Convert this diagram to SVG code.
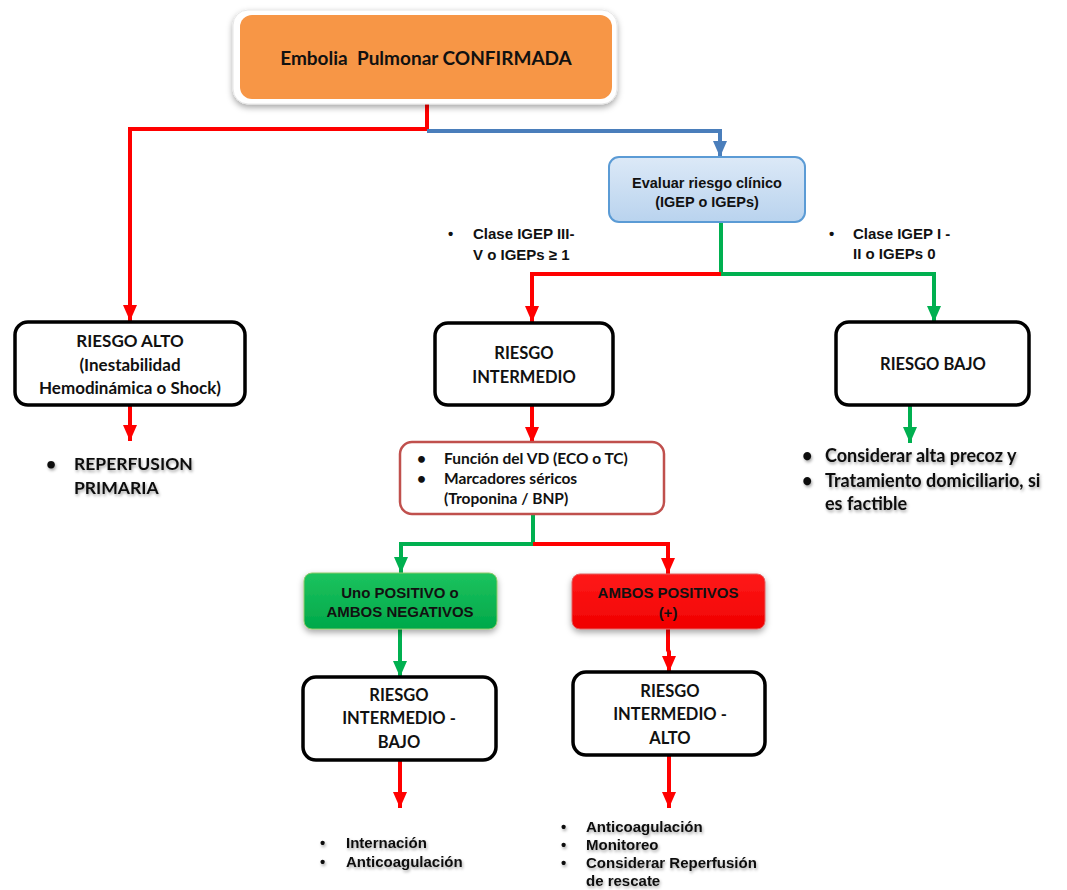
<svg xmlns="http://www.w3.org/2000/svg" width="1067" height="890" viewBox="0 0 1067 890">
<defs>
<marker id="aR" viewBox="0 0 16 14" refX="16" refY="7" markerWidth="16" markerHeight="14" markerUnits="userSpaceOnUse" orient="auto"><path d="M0,0 L16,7 L0,14 z" fill="#ff0000"/></marker>
<marker id="aG" viewBox="0 0 16 14" refX="16" refY="7" markerWidth="16" markerHeight="14" markerUnits="userSpaceOnUse" orient="auto"><path d="M0,0 L16,7 L0,14 z" fill="#00b050"/></marker>
<marker id="aB" viewBox="0 0 16 14" refX="16" refY="7" markerWidth="16" markerHeight="14" markerUnits="userSpaceOnUse" orient="auto"><path d="M0,0 L16,7 L0,14 z" fill="#4a7ebb"/></marker>
<filter id="sh" x="-10%" y="-10%" width="120%" height="130%"><feDropShadow dx="0" dy="3" stdDeviation="3" flood-color="#000" flood-opacity="0.35"/></filter>
<filter id="tsh" x="-5%" y="-20%" width="110%" height="150%"><feDropShadow dx="1" dy="2" stdDeviation="1.5" flood-color="#000" flood-opacity="0.35"/></filter>
<linearGradient id="gBlue" x1="0" y1="0" x2="0" y2="1"><stop offset="0" stop-color="#dce9f7"/><stop offset="1" stop-color="#b9d3ee"/></linearGradient>
<linearGradient id="gGreen" x1="0" y1="0" x2="0" y2="1"><stop offset="0" stop-color="#1dc35e"/><stop offset="1" stop-color="#00a84a"/></linearGradient>
<linearGradient id="gRed" x1="0" y1="0" x2="0" y2="1"><stop offset="0" stop-color="#ff1a1a"/><stop offset="1" stop-color="#f00000"/></linearGradient>
</defs>
<style>
.box{fill:#fff;stroke:#000;stroke-width:3.5}
.c{font-family:Lato,"Open Sans","Liberation Sans",sans-serif;font-weight:bold;fill:#111;text-anchor:middle}
.a{font-family:"Liberation Sans",Arial,sans-serif;font-weight:bold;fill:#111}
.am{font-family:"Liberation Sans",Arial,sans-serif;font-weight:bold;fill:#111;text-anchor:middle}
.l{font-family:Lato,"Open Sans","Liberation Sans",sans-serif;font-weight:bold;fill:#111}
.r{fill:none;stroke:#ff0000;stroke-width:4}
.g{fill:none;stroke:#00b050;stroke-width:4}
.b{fill:none;stroke:#4a7ebb;stroke-width:4}
</style>
<rect width="1067" height="890" fill="#fff"/>

<g id="connectors">
<polyline class="r" points="427,103 427,129 130,129 130,321" marker-end="url(#aR)"/>
<polyline class="b" points="427,131 720,131 720,157" marker-end="url(#aB)"/>
<polyline class="g" points="721,222 721,274 934,274 934,322" marker-end="url(#aG)"/>
<polyline class="r" points="721,274 532,274 532,322" marker-end="url(#aR)"/>
<polyline class="r" points="130,405 130,441" marker-end="url(#aR)"/>
<polyline class="r" points="532,405 532,443" marker-end="url(#aR)"/>
<polyline class="g" points="910,405 910,443" marker-end="url(#aG)"/>
<polyline class="g" points="533,514 533,544 401,544 401,573" marker-end="url(#aG)"/>
<polyline class="r" points="533,544 668,544 668,574" marker-end="url(#aR)"/>
<polyline class="g" points="400,629 400,677" marker-end="url(#aG)"/>
<polyline class="r" points="668,629 668,650 669,652 669,672" marker-end="url(#aR)"/>
<polyline class="r" points="400,760 400,808" marker-end="url(#aR)"/>
<polyline class="r" points="669,755 669,808" marker-end="url(#aR)"/>
</g>

<g id="n-confirmada">
<rect x="233" y="10" width="384" height="94" rx="15" fill="#fff" stroke="#e6e6e6" stroke-width="1" filter="url(#sh)"/>
<rect x="240" y="15" width="372" height="84" rx="12" fill="#f79646"/>
<text class="c" x="426" y="65" font-size="19" style="white-space:pre">Embolia  Pulmonar CONFIRMADA</text>
</g>

<g id="n-evaluar">
<rect x="609" y="157" width="196" height="65" rx="10" fill="url(#gBlue)" stroke="#5b9bd5" stroke-width="2"/>
<text class="am" x="707" y="188" font-size="14.5">Evaluar riesgo clínico</text>
<text class="am" x="707" y="207" font-size="14.5">(IGEP o IGEPs)</text>
</g>

<g id="lbl-clase-alta">
<text class="a" x="448" y="239" font-size="15">•</text>
<text class="a" x="473" y="239" font-size="15">Clase IGEP III-</text>
<text class="a" x="473" y="260" font-size="15">V o IGEPs ≥ 1</text>
</g>
<g id="lbl-clase-baja">
<text class="a" x="829" y="239" font-size="15">•</text>
<text class="a" x="853" y="239" font-size="15">Clase IGEP I -</text>
<text class="a" x="853" y="259" font-size="15">II o IGEPs 0</text>
</g>

<g id="n-riesgo-alto">
<rect class="box" x="15" y="322" width="230" height="83" rx="13"/>
<text class="c" x="130" y="347" font-size="17">RIESGO ALTO</text>
<text class="c" x="130" y="371" font-size="17">(Inestabilidad</text>
<text class="c" x="130" y="394" font-size="17">Hemodinámica o Shock)</text>
</g>

<g id="t-reperfusion" filter="url(#tsh)">
<text class="l" x="46" y="470" font-size="17.5">•</text>
<text class="l" x="74" y="470" font-size="17.5">REPERFUSION</text>
<text class="l" x="74" y="494" font-size="17.5">PRIMARIA</text>
</g>

<g id="n-riesgo-intermedio">
<rect class="box" x="435" y="323" width="178" height="82" rx="13"/>
<text class="c" x="524" y="359" font-size="16.5">RIESGO</text>
<text class="c" x="524" y="383" font-size="16.5">INTERMEDIO</text>
</g>

<g id="n-riesgo-bajo">
<rect class="box" x="836" y="322" width="193" height="83" rx="13"/>
<text class="c" x="933" y="370" font-size="16.5">RIESGO BAJO</text>
</g>

<g id="t-bajo" filter="url(#tsh)">
<text class="l" x="802" y="462" font-size="18">•</text>
<text class="l" x="825" y="462" font-size="18">Considerar alta precoz y</text>
<text class="l" x="802" y="487" font-size="18">•</text>
<text class="l" x="825" y="487" font-size="18">Tratamiento domiciliario, si</text>
<text class="l" x="825" y="510" font-size="18">es factible</text>
</g>

<g id="n-funcion">
<rect x="400" y="442" width="264" height="72" rx="12" fill="#fff" stroke="#c0504d" stroke-width="2.5"/>
<text class="l" x="417" y="464" font-size="15.5">•</text>
<text class="l" x="444" y="464" font-size="15.5">Función del VD (ECO o TC)</text>
<text class="l" x="417" y="484" font-size="15.5">•</text>
<text class="l" x="444" y="484" font-size="15.5">Marcadores séricos</text>
<text class="l" x="444" y="504" font-size="15.5">(Troponina / BNP)</text>
</g>

<g id="n-uno-positivo">
<rect x="304" y="573" width="193" height="56" rx="8" fill="url(#gGreen)" stroke="#8fc96a" stroke-width="1" filter="url(#sh)"/>
<text class="am" x="400" y="598" font-size="15">Uno POSITIVO o</text>
<text class="am" x="400" y="617" font-size="15">AMBOS NEGATIVOS</text>
</g>

<g id="n-ambos-positivos">
<rect x="572" y="574" width="193" height="55" rx="8" fill="url(#gRed)" stroke="#e06060" stroke-width="1" filter="url(#sh)"/>
<text class="am" x="668" y="598" font-size="15">AMBOS POSITIVOS</text>
<text class="am" x="668" y="618" font-size="15">(+)</text>
</g>

<g id="n-intermedio-bajo">
<rect class="box" x="303" y="677" width="193" height="83" rx="13"/>
<text class="c" x="399" y="701" font-size="16.5">RIESGO</text>
<text class="c" x="399" y="724" font-size="16.5">INTERMEDIO -</text>
<text class="c" x="399" y="748" font-size="16.5">BAJO</text>
</g>

<g id="n-intermedio-alto">
<rect class="box" x="573" y="672" width="192" height="83" rx="13"/>
<text class="c" x="670" y="697" font-size="16.5">RIESGO</text>
<text class="c" x="670" y="720" font-size="16.5">INTERMEDIO -</text>
<text class="c" x="670" y="744" font-size="16.5">ALTO</text>
</g>

<g id="t-ib" filter="url(#tsh)">
<text class="a" x="320" y="848" font-size="15">•</text>
<text class="a" x="346" y="848" font-size="15">Internación</text>
<text class="a" x="320" y="867" font-size="15">•</text>
<text class="a" x="346" y="867" font-size="15">Anticoagulación</text>
</g>

<g id="t-ia" filter="url(#tsh)">
<text class="a" x="561" y="832" font-size="15">•</text>
<text class="a" x="586" y="832" font-size="15">Anticoagulación</text>
<text class="a" x="561" y="850" font-size="15">•</text>
<text class="a" x="586" y="850" font-size="15">Monitoreo</text>
<text class="a" x="561" y="868" font-size="15">•</text>
<text class="a" x="586" y="868" font-size="15">Considerar Reperfusión</text>
<text class="a" x="586" y="886" font-size="15">de rescate</text>
</g>
</svg>
